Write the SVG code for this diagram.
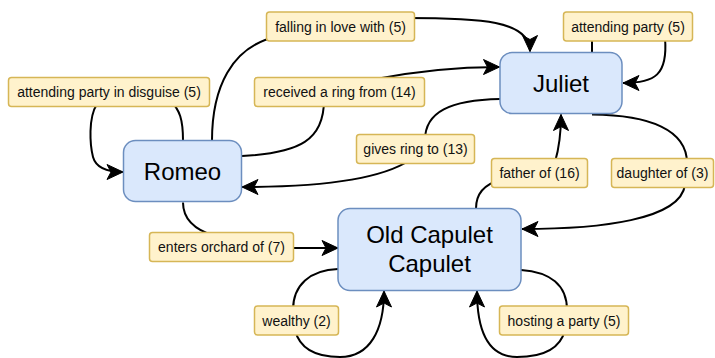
<svg xmlns="http://www.w3.org/2000/svg" width="715" height="358" viewBox="0 0 715 358">
<style>
.node rect{fill:#dae8fc;stroke:#6c8ebf;stroke-width:1.5}
.node text{font-family:"Liberation Sans",Arial,sans-serif;font-size:24px;fill:#000;text-anchor:middle}
.edge{fill:none;stroke:#000;stroke-width:2}
.arr{marker-end:url(#ah)}
.lbl rect{fill:#fff2cc;stroke:#d6b656;stroke-width:1.5}
.lbl text{font-family:"Liberation Sans",Arial,sans-serif;font-size:14px;fill:#111;text-anchor:middle}
</style>
<defs>
<marker id="ah" markerUnits="userSpaceOnUse" markerWidth="20" markerHeight="20" refX="16" refY="7.5" orient="auto" overflow="visible">
<path d="M0,0 L16,7.5 L0,15 L4,7.5 z" fill="#000" stroke="#000" stroke-width="1" stroke-linejoin="miter"/>
</marker>
</defs>
<g id="connectors">
<path class="edge" d="M212,140.5 C212,90 230,45 280,36"/>
<path class="edge arr" d="M405,18 C480,18 530,20 530,51.5"/>
<path class="edge" d="M183,140.5 C183,120 180,110 170,100"/>
<path class="edge arr" d="M97,104 C88,118 90,145 93,157 C96,168 108,172 123,172"/>
<path class="edge" d="M242,156 C300,153 324,140 324,100"/>
<path class="edge arr" d="M370,80 C420,70 460,67 499.5,67"/>
<path class="edge" d="M592,52.5 L592,35"/>
<path class="edge arr" d="M665,38 C668,75 655,83 623,83"/>
<path class="edge" d="M500,99 C450,100 425,112 425,140"/>
<path class="edge arr" d="M410,160 C380,180 320,187 242,187"/>
<path class="edge" d="M476,208.5 C476,195 482,185 500,180"/>
<path class="edge arr" d="M555,162 C560,145 561,130 561,114.5"/>
<path class="edge" d="M592,114.5 C650,115 687,130 687,163"/>
<path class="edge arr" d="M685,185 C680,220 600,229 522,229"/>
<path class="edge" d="M183,202.5 C183,220 195,230 215,236"/>
<path class="edge arr" d="M290,248 L338,248"/>
<path class="edge" d="M338,269 C310,270 293,285 293,310"/>
<path class="edge arr" d="M295,330 C300,350 318,357 340,357 C370,357 384,330 384,291"/>
<path class="edge" d="M521,270 C550,272 567,285 567,310"/>
<path class="edge arr" d="M565,330 C560,350 540,357 517,357 C490,357 477,335 477,291"/>
</g>
<g id="edge-labels">
<g class="lbl"><rect x="266.5" y="12" width="148" height="29" rx="3"/><text x="340.5" y="31.5">falling in love with (5)</text></g>
<g class="lbl"><rect x="8.5" y="77.5" width="201" height="29" rx="3"/><text x="109" y="97">attending party in disguise (5)</text></g>
<g class="lbl"><rect x="254.5" y="77.5" width="170" height="29" rx="3"/><text x="339.5" y="97">received a ring from (14)</text></g>
<g class="lbl"><rect x="563.5" y="12" width="129" height="29" rx="3"/><text x="628" y="31.5">attending party (5)</text></g>
<g class="lbl"><rect x="356.5" y="134.5" width="118" height="29" rx="3"/><text x="415.5" y="154">gives ring to (13)</text></g>
<g class="lbl"><rect x="491.5" y="158.5" width="96" height="29" rx="3"/><text x="539.5" y="178">father of (16)</text></g>
<g class="lbl"><rect x="611.5" y="158.5" width="102" height="29" rx="3"/><text x="662.5" y="178">daughter of (3)</text></g>
<g class="lbl"><rect x="149.5" y="232.5" width="144" height="29" rx="3"/><text x="221.5" y="252">enters orchard of (7)</text></g>
<g class="lbl"><rect x="254.5" y="306" width="84" height="29" rx="3"/><text x="296.5" y="325.5">wealthy (2)</text></g>
<g class="lbl"><rect x="499.5" y="306" width="129" height="29" rx="3"/><text x="564" y="325.5">hosting a party (5)</text></g>
</g>
<g id="romeo" class="node"><rect x="123.5" y="140.5" width="118" height="61" rx="12"/><text x="182.5" y="179.5">Romeo</text></g>
<g id="juliet" class="node"><rect x="500" y="52.5" width="122" height="61" rx="12"/><text x="561" y="91.5">Juliet</text></g>
<g id="old-capulet" class="node"><rect x="338" y="208.5" width="183" height="82" rx="12"/><text x="429.5" y="243">Old Capulet</text><text x="429.5" y="272">Capulet</text></g>
</svg>
